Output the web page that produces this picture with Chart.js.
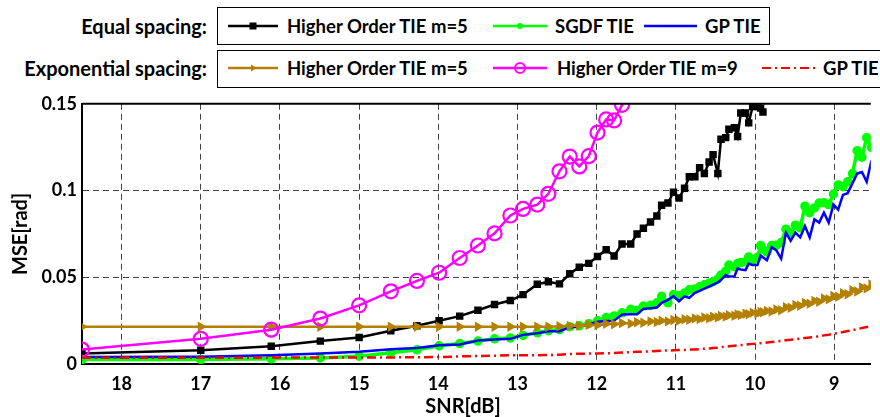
<!DOCTYPE html>
<html>
<head>
<meta charset="utf-8">
<script src="https://cdn.jsdelivr.net/npm/chart.js@4"></script>
<style>
  body { margin: 0; background: #fff; width: 880px; height: 417px; overflow: hidden; position: relative; font-family: Lato, sans-serif; font-weight: bold; }
  .lbl { position: absolute; font-size: 18.5px; white-space: nowrap; line-height: 22px; color: #000; }
  .row { font-size: 20px; }
  .box { position: absolute; border: 1.5px solid #000; box-sizing: border-box; }
  .smp { position: absolute; }
  #wrap { position: absolute; left: 0; top: 88px; width: 880px; height: 329px; }
  #xtitle { position: absolute; left: 363px; width: 200px; text-align: center; top: 394px; font-size: 20px; line-height: 22px; }
</style>
</head>
<body>
<div class="box" style="left:217px; top:7px; width:553px; height:38px;"></div>
<div class="box" style="left:217px; top:50px; width:700px; height:38px;"></div>

<div class="lbl row" style="right:673px; top:15px;">Equal spacing:</div>
<div class="lbl row" style="right:673px; top:57px;">Exponential spacing:</div>

<svg class="smp" style="left:228px; top:18px;" width="50" height="16"><line x1="0" y1="8" x2="50" y2="8" stroke="#000" stroke-width="2.5"/><rect x="21.5" y="4.5" width="7" height="7" fill="#000"/></svg>
<div class="lbl" style="left:287px; top:15px;">Higher Order TIE m=5</div>
<svg class="smp" style="left:493px; top:18px;" width="54" height="16"><line x1="0" y1="8" x2="54" y2="8" stroke="#00ff00" stroke-width="2.5"/><circle cx="27" cy="8" r="3" fill="#00ff00"/></svg>
<div class="lbl" style="left:555px; top:15px;">SGDF TIE</div>
<svg class="smp" style="left:644px; top:18px;" width="53" height="16"><line x1="0" y1="8" x2="53" y2="8" stroke="#0000ff" stroke-width="2.5"/></svg>
<div class="lbl" style="left:705px; top:15px;">GP TIE</div>

<svg class="smp" style="left:228px; top:60px;" width="50" height="16"><line x1="0" y1="8" x2="50" y2="8" stroke="#b38000" stroke-width="2.5"/><polygon points="23,4.5 29,8 23,11.5" fill="#b38000"/></svg>
<div class="lbl" style="left:287px; top:57px;">Higher Order TIE m=5</div>
<svg class="smp" style="left:493px; top:60px;" width="54" height="16"><line x1="0" y1="8" x2="54" y2="8" stroke="#ff00ff" stroke-width="2.5"/><circle cx="27" cy="8" r="5" fill="none" stroke="#ff00ff" stroke-width="2"/></svg>
<div class="lbl" style="left:557px; top:57px;">Higher Order TIE m=9</div>
<svg class="smp" style="left:762px; top:60px;" width="53" height="16"><line x1="0" y1="8" x2="53" y2="8" stroke="#ff0000" stroke-width="2" stroke-dasharray="9 4 2 4"/></svg>
<div class="lbl" style="left:823px; top:57px;">GP TIE</div>

<div id="wrap"><canvas id="chart" width="880" height="329"></canvas></div>
<div id="xtitle">SNR[dB]</div>

<script>
// SNR grid (dB), shared by all curves
const snr = [18.5, 17, 16.11, 15.49, 15.0, 14.6, 14.27, 13.99, 13.73, 13.5,
  13.29, 13.09, 12.93, 12.75, 12.61, 12.47, 12.34, 12.22, 12.1, 11.99,
  11.88, 11.78, 11.68, 11.57, 11.49, 11.41, 11.32, 11.24, 11.18, 11.1,
  11.03, 10.96, 10.89, 10.83, 10.76, 10.7, 10.64, 10.58, 10.53, 10.47,
  10.43, 10.37, 10.33, 10.26, 10.22, 10.18, 10.12, 10.08, 10.03, 9.97,
  9.93, 9.9, 9.85, 9.79, 9.73, 9.67, 9.61, 9.55, 9.49, 9.43,
  9.37, 9.31, 9.25, 9.19, 9.13, 9.07, 9.01, 8.95, 8.89, 8.83,
  8.77, 8.71, 8.65, 8.59, 8.53]

// equal spacing
const hoEq5 = [0.006, 0.0079, 0.0102, 0.0132, 0.0153, 0.0192, 0.022, 0.0249, 0.0276, 0.031,
  0.0343, 0.0366, 0.04, 0.046, 0.0474, 0.0462, 0.052, 0.0558, 0.058, 0.062,
  0.0659, 0.0623, 0.0692, 0.0692, 0.0749, 0.0783, 0.0819, 0.0853, 0.0915, 0.0928,
  0.099, 0.0957, 0.1013, 0.1079, 0.1079, 0.1132, 0.1098, 0.1164, 0.1207, 0.1098,
  0.1296, 0.1305, 0.1353, 0.1362, 0.1311, 0.1447, 0.1447, 0.139, 0.1485, 0.1485,
  0.1475, 0.1453]
const sgdfEq = [0.0026, 0.0026, 0.003, 0.0035, 0.0045, 0.0065, 0.0082, 0.0105, 0.0118, 0.0132,
  0.0145, 0.015, 0.0165, 0.018, 0.0192, 0.0198, 0.0215, 0.022, 0.0232, 0.0249,
  0.0268, 0.0277, 0.0295, 0.0315, 0.031, 0.0334, 0.0338, 0.0353, 0.039, 0.0353,
  0.04, 0.0395, 0.041, 0.0428, 0.0432, 0.0445, 0.0457, 0.0465, 0.0475, 0.049,
  0.0513, 0.0535, 0.057, 0.056, 0.0579, 0.0585, 0.059, 0.0617, 0.06, 0.0615,
  0.0683, 0.066, 0.0645, 0.0683, 0.0685, 0.07, 0.0777, 0.0758, 0.08, 0.0785,
  0.091, 0.0872, 0.09, 0.0928, 0.093, 0.0919, 0.098, 0.1032, 0.1022, 0.105,
  0.1098, 0.123, 0.1192, 0.1305, 0.1248]
const gpEq = [0.004, 0.0042, 0.0051, 0.006, 0.007, 0.0085, 0.0092, 0.0108, 0.0113, 0.0136,
  0.0141, 0.0145, 0.0168, 0.0177, 0.0189, 0.0189, 0.0211, 0.0218, 0.0228, 0.0243,
  0.0248, 0.025, 0.0285, 0.0287, 0.0287, 0.0318, 0.0322, 0.0326, 0.0353, 0.037,
  0.0392, 0.0362, 0.039, 0.0381, 0.041, 0.0422, 0.0435, 0.0446, 0.0457, 0.047,
  0.0485, 0.0513, 0.0504, 0.0506, 0.055, 0.0545, 0.0541, 0.0579, 0.057, 0.057,
  0.0626, 0.0615, 0.0598, 0.0674, 0.0655, 0.0607, 0.0758, 0.0711, 0.0758, 0.073,
  0.0796, 0.073, 0.0834, 0.0815, 0.0872, 0.0815, 0.0919, 0.089, 0.0975, 0.0985,
  0.1041, 0.1098, 0.1107, 0.1051, 0.1173]

// exponential spacing
const hoExp5 = [0.0215, 0.0215, 0.0215, 0.0215, 0.0215, 0.0215, 0.0215, 0.0215, 0.0215, 0.0215,
  0.0215, 0.0215, 0.0215, 0.0215, 0.0215, 0.0218, 0.022, 0.0221, 0.0226, 0.0224,
  0.0232, 0.0229, 0.0236, 0.0233, 0.0241, 0.0238, 0.0246, 0.0242, 0.025, 0.0246,
  0.0254, 0.025, 0.0258, 0.0255, 0.0263, 0.0259, 0.0268, 0.0264, 0.0272, 0.0269,
  0.0277, 0.0273, 0.0281, 0.0278, 0.0286, 0.0282, 0.029, 0.0287, 0.0296, 0.0292,
  0.03, 0.0298, 0.0306, 0.0303, 0.0314, 0.031, 0.0328, 0.0324, 0.034, 0.0336,
  0.0352, 0.0348, 0.0364, 0.0359, 0.0378, 0.0373, 0.0393, 0.0388, 0.0408, 0.0402,
  0.0425, 0.0418, 0.0442, 0.0436, 0.0458]
const hoExp9 = [0.0083, 0.0145, 0.0198, 0.0262, 0.0338, 0.0419, 0.0479, 0.0526, 0.0611, 0.0683,
  0.0753, 0.0856, 0.0894, 0.0919, 0.0981, 0.1111, 0.1196, 0.1139, 0.1198, 0.1334,
  0.141, 0.1404, 0.1494, 0.159]
const gpExp = [0.0036, 0.0036, 0.0037, 0.0037, 0.0038, 0.0038, 0.0039, 0.004, 0.0044, 0.0046,
  0.0048, 0.005, 0.0051, 0.0051, 0.0052, 0.0053, 0.0058, 0.0059, 0.006, 0.0061,
  0.0062, 0.0063, 0.0066, 0.0068, 0.007, 0.0071, 0.0073, 0.0075, 0.0077, 0.0078,
  0.0079, 0.008, 0.0081, 0.0083, 0.0084, 0.0086, 0.0088, 0.009, 0.0092, 0.0094,
  0.0097, 0.01, 0.0102, 0.0105, 0.0107, 0.0109, 0.0112, 0.0114, 0.0116, 0.0118,
  0.012, 0.0121, 0.0124, 0.0127, 0.013, 0.0133, 0.0137, 0.014, 0.0143, 0.0146,
  0.015, 0.0153, 0.0156, 0.016, 0.0165, 0.0169, 0.0174, 0.0179, 0.0184, 0.019,
  0.0195, 0.0201, 0.0207, 0.0213, 0.022]

const xTicks = [18, 17, 16, 15, 14, 13, 12, 11, 10, 9]
const yTicks = [0, 0.05, 0.1, 0.15]
const yTickLabels = ['0', '0.05', '0.1', '0.15']

const toPoints = (values) => values.map((v, i) => ({ x: snr[i], y: v }))

const frameTop = {
  id: 'frameTop',
  afterDraw(chart) {
    const { ctx, chartArea } = chart
    ctx.save()
    ctx.strokeStyle = '#000'
    ctx.lineWidth = 2
    ctx.beginPath()
    ctx.moveTo(chartArea.left, chartArea.top)
    ctx.lineTo(chartArea.right, chartArea.top)
    ctx.stroke()
    ctx.restore()
  }
}

const tickFont = { family: 'Lato', weight: 'bold', size: 18 }

new Chart(document.getElementById('chart'), {
  type: 'line',
  data: {
    datasets: [
      { label: 'Higher Order TIE m=5', data: toPoints(hoEq5), borderColor: '#000', backgroundColor: '#000',
        borderWidth: 2.5, pointStyle: 'rect', pointRadius: 3.5, order: 6 },
      { label: 'SGDF TIE', data: toPoints(sgdfEq), borderColor: '#00ff00', backgroundColor: '#00ff00',
        borderWidth: 3.5, pointStyle: 'circle', pointRadius: 3, order: 5 },
      { label: 'GP TIE', data: toPoints(gpEq), borderColor: '#0000ff', borderWidth: 2.5, pointRadius: 0, order: 4 },
      { label: 'Higher Order TIE m=5 (exp)', data: toPoints(hoExp5), borderColor: '#b38000', backgroundColor: '#b38000',
        borderWidth: 2.5, pointStyle: 'triangle', pointRotation: 90, pointRadius: 3.5, order: 3 },
      { label: 'Higher Order TIE m=9', data: toPoints(hoExp9), borderColor: '#ff00ff', backgroundColor: 'rgba(0,0,0,0)',
        borderWidth: 2.5, pointStyle: 'circle', pointRadius: 7, pointBorderWidth: 2.2, order: 2 },
      { label: 'GP TIE (exp)', data: toPoints(gpExp), borderColor: '#ff0000', borderWidth: 2.5,
        borderDash: [9, 4, 2, 4], pointRadius: 0, order: 1 }
    ]
  },
  options: {
    responsive: false,
    animation: false,
    layout: { padding: { top: 11, right: 0, left: 0, bottom: 0 } },
    plugins: { legend: { display: false }, tooltip: { enabled: false } },
    scales: {
      x: {
        type: 'linear',
        reverse: true,
        min: 8.538,
        max: 18.5,
        afterBuildTicks: (scale) => { scale.ticks = xTicks.map(v => ({ value: v })) },
        afterFit: (scale) => { scale.height = 53 },
        ticks: { color: '#000', font: tickFont, padding: 9, maxRotation: 0 },
        grid: { color: '#444', lineWidth: 1, drawTicks: false },
        border: { color: '#000', width: 2, dash: [6, 4] },
        title: { display: false }
      },
      y: {
        min: 0,
        max: 0.15,
        afterBuildTicks: (scale) => { scale.ticks = yTicks.map(v => ({ value: v })) },
        afterFit: (scale) => { scale.width = 82 },
        ticks: { color: '#000', font: tickFont, padding: 5,
          callback: (v) => yTickLabels[yTicks.indexOf(v)] },
        grid: { color: '#444', lineWidth: 1, drawTicks: false },
        border: { color: '#000', width: 2, dash: [6, 4] },
        title: { display: true, text: 'MSE[rad]', color: '#000',
          font: { family: 'Lato', weight: 'bold', size: 20 }, padding: { top: 9, bottom: 0 } }
      }
    }
  },
  plugins: [frameTop]
})
</script>
</body>
</html>
